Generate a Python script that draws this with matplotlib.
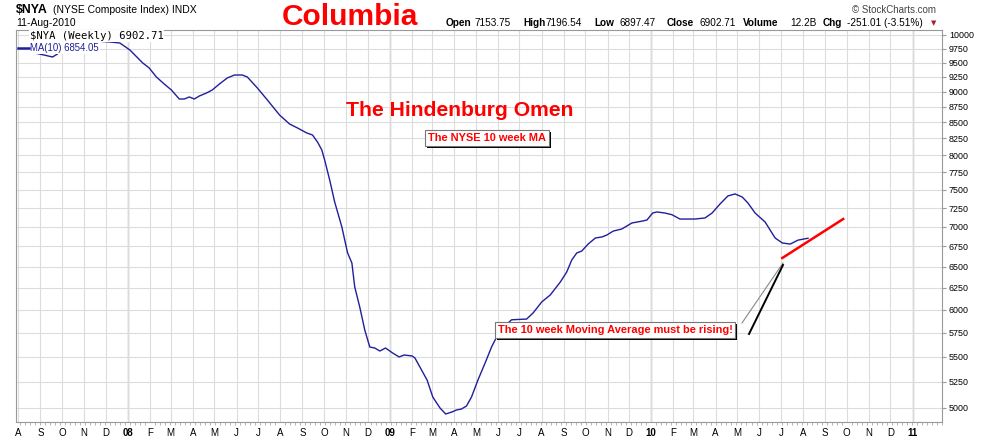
import matplotlib
matplotlib.use("Agg")
import matplotlib.pyplot as plt
import matplotlib.dates as mdates
import matplotlib.patheffects as pe
from matplotlib.lines import Line2D
from matplotlib.ticker import FuncFormatter, NullLocator
import pandas as pd

W, H = 990, 438

# 10-week moving average of $NYA
ma_dates = [
    "2007-08-24", "2007-09-06", "2007-09-18", "2007-09-25", "2007-10-01", "2007-10-12",
    "2007-10-26", "2007-11-16", "2007-12-07", "2007-12-21", "2008-01-04", "2008-01-22",
    "2008-01-31", "2008-02-10", "2008-02-21", "2008-03-02", "2008-03-13", "2008-03-20",
    "2008-03-27", "2008-04-03", "2008-04-10", "2008-04-20", "2008-04-28", "2008-05-08",
    "2008-05-19", "2008-05-29", "2008-06-09", "2008-06-16", "2008-06-30", "2008-07-14",
    "2008-07-31", "2008-08-14", "2008-08-25", "2008-09-07", "2008-09-15", "2008-09-22",
    "2008-09-28", "2008-10-02", "2008-10-09", "2008-10-16", "2008-10-26", "2008-11-03",
    "2008-11-09", "2008-11-13", "2008-11-20", "2008-11-27", "2008-12-04", "2008-12-11",
    "2008-12-18", "2008-12-26", "2009-01-05", "2009-01-14", "2009-01-21", "2009-02-01",
    "2009-02-05", "2009-02-12", "2009-02-22", "2009-03-02", "2009-03-12", "2009-03-20",
    "2009-03-29", "2009-04-04", "2009-04-11", "2009-04-18", "2009-04-25", "2009-05-04",
    "2009-05-14", "2009-05-23", "2009-06-04", "2009-06-20", "2009-07-11", "2009-07-20",
    "2009-08-01", "2009-08-13", "2009-08-27", "2009-09-05", "2009-09-12", "2009-09-19",
    "2009-09-26", "2009-10-05", "2009-10-15", "2009-10-24", "2009-10-31", "2009-11-09",
    "2009-11-21", "2009-12-05", "2009-12-20", "2009-12-26", "2010-01-03", "2010-01-09",
    "2010-01-20", "2010-01-30", "2010-02-10", "2010-03-03", "2010-03-17", "2010-03-27",
    "2010-04-07", "2010-04-18", "2010-04-28", "2010-05-08", "2010-05-16", "2010-05-26",
    "2010-06-09", "2010-06-23", "2010-07-03", "2010-07-14", "2010-07-25", "2010-08-08",
]
ma_vals = [
    9671, 9635, 9599, 9653, 9725, 9816,
    9871, 9889, 9871, 9852, 9725, 9493,
    9405, 9249, 9129, 9028, 8878, 8878,
    8912, 8878, 8928, 8978, 9028, 9129,
    9232, 9283, 9283, 9249, 9062, 8862,
    8618, 8475, 8413, 8335, 8304, 8196,
    8076, 7927, 7638, 7331, 6999, 6669,
    6546, 6260, 6031, 5779, 5599, 5589,
    5558, 5589, 5537, 5497, 5517, 5507,
    5487, 5395, 5266, 5102, 5000, 4944,
    4963, 4981, 4990, 5018, 5102, 5266,
    5435, 5599, 5779, 5890, 5898, 5965,
    6088, 6168, 6318, 6437, 6582, 6669,
    6693, 6781, 6857, 6870, 6895, 6946,
    6973, 7051, 7077, 7090, 7183, 7197,
    7183, 7160, 7103, 7103, 7117, 7183,
    7304, 7414, 7442, 7400, 7318, 7183,
    7064, 6857, 6794, 6780, 6830, 6854,
]

# hand-drawn red trend line
trend_dates = ["2010-07-03", "2010-09-26"]
trend_vals = [6607, 7103]

ytick_vals = [5000, 5250, 5500, 5750, 6000, 6250, 6500, 6750, 7000, 7250,
              7500, 7750, 8000, 8250, 8500, 8750, 9000, 9250, 9500, 9750, 10000]

header_items = [("Open", True), ("7153.75", False), ("High", True), ("7196.54", False),
                ("Low", True), ("6897.47", False), ("Close", True), ("6902.71", False),
                ("Volume", True), ("12.2B", False), ("Chg", True), ("-251.01 (-3.51%)", False)]
header_x = [446, 475, 523, 546, 594, 619, 667, 699, 743, 790, 823, 847]

BLUE = "#1f1f9c"
RED = "#ff0000"
SANS = "Liberation Sans"


def fx(x):
    return x / W


def fy(y):
    return 1 - y / H


fig = plt.figure(figsize=(W / 100, H / 100), dpi=100)
ax = fig.add_axes([fx(16), fy(422), (942 - 16) / W, (422 - 30) / H])

d = pd.to_datetime(ma_dates)
ax.plot(d, ma_vals, color=BLUE, lw=1.0, zorder=3)
ax.plot(pd.to_datetime(trend_dates), trend_vals, color=RED, lw=1.8, zorder=3)

ax.set_yscale("log")
ax.set_ylim(4871, 10093)
ax.set_xlim(pd.Timestamp("2007-07-29"), pd.Timestamp("2011-02-11"))

# y axis on the right
ax.yaxis.tick_right()
ax.set_yticks(ytick_vals)
ax.yaxis.set_major_formatter(FuncFormatter(lambda v, p: f"{v:.0f}"))
ax.yaxis.set_minor_locator(NullLocator())
ax.tick_params(axis="y", length=3, color="#999", labelsize=6.4, pad=2, labelfontfamily=SANS)

# month ticks
months = pd.date_range("2007-08-01", "2011-01-01", freq="MS")
labels = [f"{m.year % 100:02d}" if m.month == 1 else m.strftime("%b")[0] for m in months]
ax.set_xticks(months)
ax.set_xticklabels(labels)
ax.xaxis.set_minor_locator(mdates.WeekdayLocator(byweekday=mdates.FR))
ax.tick_params(axis="x", which="major", length=0, labelsize=7, pad=4, labelfontfamily=SANS)
ax.tick_params(axis="x", which="minor", length=2, color="#aaa")
for lab, m in zip(ax.get_xticklabels(), months):
    if m.month == 1:
        lab.set_fontweight("bold")

ax.grid(True, which="major", color="#dcdcdc", lw=0.8, zorder=0)
for m in months:
    if m.month == 1:
        ax.axvline(m, color="#b5b5b5", lw=1.0, zorder=1)
for s in ax.spines.values():
    s.set_color("#999")
    s.set_linewidth(0.8)

# header
fig.text(fx(16), fy(10), "$NYA", family=SANS, weight="bold", size=8.9, va="center")
fig.text(fx(53), fy(10), "(NYSE Composite Index) INDX", family=SANS, size=7.5, va="center")
fig.text(fx(16), fy(23), "11-Aug-2010", family=SANS, size=7.5, va="center")
fig.text(fx(350), fy(17), "Columbia", family=SANS, weight="bold", size=21.5, color=RED,
         ha="center", va="center")
for (t, b), x in zip(header_items, header_x):
    fig.text(fx(x), fy(23), t, family=SANS, size=7.2, weight="bold" if b else "normal",
             va="center")
fig.text(fx(936), fy(23), "\u25bc", family="DejaVu Sans", size=5, color="#a8202a",
         ha="right", va="center")
fig.text(fx(936), fy(10), "\u00a9 StockCharts.com", family=SANS, size=7, color="#444",
         ha="right", va="center")

# legend inside the plot
fig.text(fx(30), fy(36), "$NYA (Weekly) 6902.71", family="DejaVu Sans Mono", size=7.6,
         va="center", bbox=dict(boxstyle="square,pad=0.05", fc="white", ec="none"), zorder=6)
fig.text(fx(30), fy(48), "MA(10) 6854.05", family=SANS, size=6.9, color=BLUE, va="center",
         bbox=dict(boxstyle="square,pad=0.1", fc="white", ec="none"), zorder=6)
fig.add_artist(Line2D([fx(18), fx(29)], [fy(48), fy(48)], color=BLUE, lw=1.8, zorder=7))

# titles / callouts
fig.text(fx(459.5), fy(111), "The Hindenburg Omen", family=SANS, weight="bold", size=15.2,
         color=RED, ha="center", va="center", zorder=5)


def callout(x, y, text):
    t = fig.text(fx(x), fy(y), text, color=RED, zorder=6, family=SANS, weight="bold",
                 size=7.9, ha="center", va="center",
                 bbox=dict(boxstyle="square,pad=0.25", fc="white", ec="#777", lw=0.8))
    t.get_bbox_patch().set_path_effects([
        pe.SimplePatchShadow(offset=(1.5, -1.5), shadow_rgbFace="black", alpha=1.0),
        pe.Normal()])


fig.add_artist(Line2D([fx(742), fx(783)], [fy(323), fy(263)], color="#888", lw=0.8, zorder=4))
fig.add_artist(Line2D([fx(749), fx(783)], [fy(334), fy(265)], color="black", lw=1.4, zorder=4))
callout(487, 138, "The NYSE 10 week MA")
callout(615, 330, "The 10 week Moving Average must be rising!")

fig.savefig("out.png", dpi=100, facecolor="white")
